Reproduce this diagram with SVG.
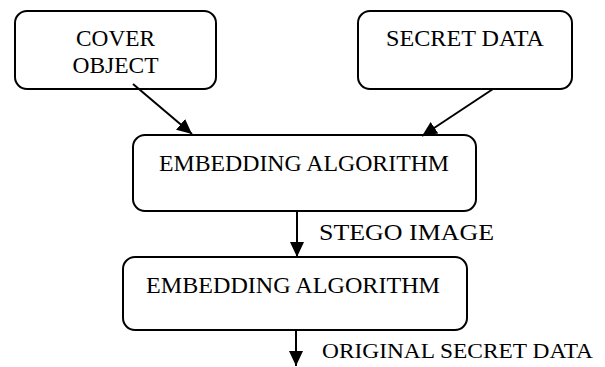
<svg xmlns="http://www.w3.org/2000/svg" width="605" height="367" viewBox="0 0 605 367">
  <style>
    .box { fill: #ffffff; stroke: #000000; stroke-width: 2; }
    .lbl { font-family: "Liberation Serif", "Times New Roman", serif; font-size: 23px; fill: #000000; }
    .edge { stroke: #000000; stroke-width: 2; fill: none; }
  </style>
  <defs>
    <marker id="ah" markerUnits="userSpaceOnUse" markerWidth="16" markerHeight="15" refX="15" refY="7" orient="auto">
      <path d="M0,0 L15,7 L0,14 z" fill="#000000"/>
    </marker>
  </defs>
  <rect width="605" height="367" fill="#ffffff"/>
  <g id="cover-object">
    <rect class="box" x="15" y="11" width="201" height="78" rx="12" ry="12"/>
    <text class="lbl" x="115.5" y="46" text-anchor="middle" textLength="79" lengthAdjust="spacingAndGlyphs">COVER</text>
    <text class="lbl" x="115.5" y="73" text-anchor="middle" textLength="86" lengthAdjust="spacingAndGlyphs">OBJECT</text>
  </g>
  <g id="secret-data">
    <rect class="box" x="358" y="11" width="214" height="78" rx="12" ry="12"/>
    <text class="lbl" x="465" y="46" text-anchor="middle" textLength="158" lengthAdjust="spacingAndGlyphs">SECRET DATA</text>
  </g>
  <g id="embedding-1">
    <rect class="box" x="133" y="135" width="343" height="76" rx="12" ry="12"/>
    <text class="lbl" x="304" y="171" text-anchor="middle" textLength="290" lengthAdjust="spacingAndGlyphs">EMBEDDING ALGORITHM</text>
  </g>
  <g id="embedding-2">
    <rect class="box" x="123" y="257" width="344" height="73" rx="12" ry="12"/>
    <text class="lbl" x="293" y="293" text-anchor="middle" textLength="294" lengthAdjust="spacingAndGlyphs">EMBEDDING ALGORITHM</text>
  </g>
  <g id="connectors">
    <line class="edge" x1="133" y1="84" x2="192" y2="134" marker-end="url(#ah)"/>
    <line class="edge" x1="493" y1="89" x2="422" y2="136" marker-end="url(#ah)"/>
    <line class="edge" x1="297" y1="211" x2="297" y2="257" marker-end="url(#ah)"/>
    <line class="edge" x1="296" y1="330" x2="296" y2="366" marker-end="url(#ah)"/>
    <text class="lbl" x="319" y="240" textLength="175" lengthAdjust="spacingAndGlyphs">STEGO IMAGE</text>
    <text class="lbl" x="322" y="358" style="font-size:21px" textLength="271" lengthAdjust="spacingAndGlyphs">ORIGINAL SECRET DATA</text>
  </g>
</svg>
